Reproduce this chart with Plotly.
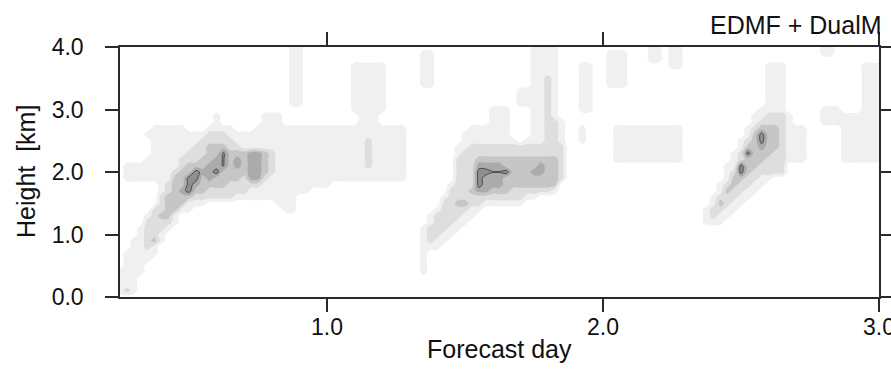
import plotly.graph_objects as go

# ---- grid of the field (forecast day x height) ----
DAY_START = 0.25
DAY_STEP = 0.025
N_DAYS = 111
HEIGHT_STEP = 0.1
N_HEIGHTS = 41

forecast_day = [round(DAY_START + DAY_STEP * i, 4) for i in range(N_DAYS)]
height_km = [round(HEIGHT_STEP * j, 2) for j in range(N_HEIGHTS)]

x_tick_vals = [1.0, 2.0, 3.0]
x_tick_text = ["1.0", "2.0", "3.0"]
y_tick_vals = [0.0, 1.0, 2.0, 3.0, 4.0]
y_tick_text = ["0.0", "1.0", "2.0", "3.0", "4.0"]

# ---- cloud-fraction class: {height row: [(first col, last col), ...]} ----
LEVEL_1 = {
    40: [(25, 26), (60, 63), (77, 78), (80, 81), (102, 103)],
    39: [(25, 26), (44, 45), (60, 63), (71, 73), (77, 78), (80, 81), (102, 103)],
    38: [(25, 26), (44, 45), (60, 63), (71, 73), (77, 78), (80, 81)],
    37: [(25, 26), (34, 38), (44, 45), (60, 63), (67, 68), (71, 73), (80, 81), (94, 96), (108, 110)],
    36: [(25, 26), (34, 38), (44, 45), (60, 63), (67, 68), (71, 73), (94, 96), (108, 110)],
    35: [(25, 26), (34, 38), (44, 45), (60, 63), (67, 68), (71, 73), (94, 96), (108, 110)],
    34: [(25, 26), (34, 38), (44, 45), (60, 63), (67, 68), (71, 73), (94, 96), (108, 110)],
    33: [(25, 26), (34, 38), (58, 59), (60, 63), (67, 68), (94, 96), (108, 110)],
    32: [(25, 26), (34, 38), (58, 59), (60, 63), (67, 68), (94, 96), (108, 110)],
    31: [(25, 26), (34, 38), (58, 59), (60, 63), (67, 68), (94, 96), (108, 110)],
    30: [(34, 38), (54, 56), (60, 63), (67, 68), (93, 96), (102, 104), (108, 110)],
    29: [(14, 14), (21, 23), (35, 37), (54, 56), (60, 63), (92, 97), (102, 104), (105, 110)],
    28: [(14, 14), (21, 23), (35, 37), (54, 56), (60, 64), (92, 97), (102, 104), (105, 110)],
    27: [(5, 9), (13, 16), (20, 41), (51, 56), (60, 64), (67, 67), (72, 81), (91, 97), (98, 99), (105, 110)],
    26: [(4, 41), (50, 56), (60, 64), (67, 67), (72, 81), (91, 97), (98, 99), (105, 110)],
    25: [(5, 41), (50, 57), (59, 64), (67, 67), (72, 81), (90, 97), (98, 99), (105, 110)],
    24: [(5, 41), (49, 64), (72, 81), (90, 97), (98, 99), (105, 110)],
    23: [(5, 41), (49, 64), (72, 81), (89, 97), (98, 99), (105, 110)],
    22: [(4, 41), (49, 64), (72, 81), (89, 97), (98, 99), (105, 110)],
    21: [(1, 41), (49, 64), (88, 96)],
    20: [(1, 41), (49, 64), (88, 96)],
    19: [(1, 41), (49, 64), (88, 94)],
    18: [(6, 30), (48, 63), (87, 93)],
    17: [(6, 27), (48, 63), (87, 92)],
    16: [(6, 25), (47, 60), (86, 91)],
    15: [(6, 12), (23, 25), (47, 58), (86, 90)],
    14: [(5, 10), (24, 25), (46, 52), (85, 89)],
    13: [(4, 8), (45, 51), (85, 88)],
    12: [(4, 8), (45, 50), (85, 87)],
    11: [(3, 7), (44, 49)],
    10: [(3, 6), (44, 48)],
    9: [(2, 6), (44, 47)],
    8: [(2, 5), (44, 46)],
    7: [(1, 5), (44, 44)],
    6: [(1, 4), (44, 44)],
    5: [(1, 3), (44, 44)],
    4: [(0, 3), (44, 44)],
    3: [(0, 2)],
    2: [(0, 2)],
    1: [(0, 2)],
}

LEVEL_2 = {
    35: [(62, 62)], 34: [(62, 62)], 33: [(62, 62)], 32: [(62, 62)],
    31: [(62, 62)], 30: [(62, 62)],
    29: [(62, 62), (94, 96)],
    28: [(62, 63), (93, 96)],
    27: [(62, 63), (92, 96)],
    26: [(13, 15), (62, 63), (92, 96)],
    25: [(12, 16), (36, 36), (62, 63), (91, 96)],
    24: [(11, 17), (36, 36), (51, 64), (91, 96)],
    23: [(10, 22), (36, 36), (50, 64), (90, 96)],
    22: [(9, 22), (36, 36), (49, 64), (90, 96)],
    21: [(9, 22), (36, 36), (49, 64), (90, 96)],
    20: [(8, 22), (49, 64), (89, 96)],
    19: [(8, 21), (49, 64), (89, 92)],
    18: [(7, 20), (49, 63), (88, 91)],
    17: [(7, 18), (48, 62), (88, 90)],
    16: [(6, 16), (48, 58), (87, 89)],
    15: [(6, 9), (47, 52), (87, 88)],
    14: [(5, 8), (47, 50), (86, 87)],
    13: [(5, 7), (46, 49), (86, 86)],
    12: [(4, 7), (46, 48)],
    11: [(4, 6), (45, 47)],
    10: [(4, 5), (45, 46)],
    9: [(4, 5), (45, 45)],
    8: [(4, 4)],
    1: [(1, 1)],
}

LEVEL_3 = {
    27: [(93, 95)],
    26: [(92, 95)],
    25: [(92, 95)],
    24: [(13, 15), (91, 95)],
    23: [(13, 21), (91, 94)],
    22: [(12, 21), (52, 63), (91, 93)],
    21: [(10, 21), (52, 63), (90, 92)],
    20: [(9, 21), (52, 63), (90, 91)],
    19: [(8, 17), (52, 63), (89, 90)],
    18: [(8, 15), (52, 63), (89, 89)],
    17: [(8, 12), (51, 56), (88, 88)],
    16: [(7, 10)],
    15: [(7, 9), (49, 50), (87, 87)],
    14: [(7, 8)],
    13: [(6, 7)],
    9: [(5, 5)],
}

LEVEL_4 = {
    26: [(93, 93)],
    25: [(93, 93)],
    24: [(93, 93)],
    23: [(19, 20)],
    22: [(14, 15), (17, 17), (19, 20)],
    21: [(13, 15), (17, 17), (19, 20), (52, 55), (61, 61)],
    20: [(11, 12), (13, 14), (19, 20), (52, 55), (60, 61)],
    19: [(10, 11), (13, 13), (19, 20), (52, 55)],
    18: [(10, 11), (52, 55)],
    17: [(9, 10), (52, 53)],
}

LEVEL_5 = {
    26: [(93, 93)],
    25: [(93, 93)],
    23: [(91, 91)],
    21: [(90, 90)],
    20: [(11, 11), (14, 14), (52, 53), (56, 56), (90, 90)],
    19: [(10, 11), (52, 52)],
    18: [(10, 10), (52, 52)],
    17: [(10, 10)],
}

# thin filaments just above the top class (row, col, value)
FILAMENTS = [(21, 15, 4.6), (22, 15, 4.6), (23, 15, 4.7), (20, 54, 4.55), (20, 55, 4.55)]

BAND_COLORS = ["#ffffff", "#f0f0f0", "#dedede", "#c6c6c6", "#ababab", "#8f8f8f"]

z = [[0.0] * N_DAYS for _ in range(N_HEIGHTS)]
for level, spans in [(1, LEVEL_1), (2, LEVEL_2), (3, LEVEL_3), (4, LEVEL_4), (5, LEVEL_5)]:
    for row, lst in spans.items():
        for c0, c1 in lst:
            for c in range(c0, c1 + 1):
                z[row][c] = max(z[row][c], float(level))
for row, col, val in FILAMENTS:
    z[row][col] = max(z[row][col], val)

nlev = len(BAND_COLORS) - 1
colorscale = []
for k, col in enumerate(BAND_COLORS):
    lo = max(0.0, (k - 0.5) / nlev)
    hi = min(1.0, (k + 0.5) / nlev)
    colorscale += [[lo, col], [hi, col]]

fig = go.Figure()
fig.add_trace(go.Contour(
    x=forecast_day, y=height_km, z=z,
    autocontour=False,
    contours=dict(start=0.5, end=4.5, size=1, coloring="fill", showlines=False),
    colorscale=colorscale, showscale=False,
    line=dict(width=0, smoothing=1),
    hoverinfo="skip",
))
fig.add_trace(go.Contour(
    x=forecast_day, y=height_km, z=z,
    autocontour=False,
    contours=dict(start=4.5, end=4.5, size=1, coloring="none"),
    line=dict(color="#4a4a4a", width=1, smoothing=1),
    showscale=False, hoverinfo="skip",
))

axis_color = "#2a2a2a"
FONT = "Liberation Sans, Arial, Helvetica, sans-serif"

fig.update_xaxes(
    range=[0.25, 3.0], tickvals=x_tick_vals, ticktext=x_tick_text,
    ticks="outside", ticklen=13, tickwidth=1.5, tickcolor=axis_color,
    showline=True, linecolor=axis_color, linewidth=1.5, mirror="ticks",
    showgrid=False, zeroline=False, automargin=False, ticklabelstandoff=-4,
    ticklabeloverflow="allow",
    tickfont=dict(size=23, color="#111", family=FONT),
)
fig.update_yaxes(
    range=[0.0, 4.0], tickvals=y_tick_vals, ticktext=y_tick_text,
    ticks="outside", ticklen=13, tickwidth=1.5, tickcolor=axis_color,
    showline=True, linecolor=axis_color, linewidth=1.5, mirror="ticks",
    showgrid=False, zeroline=False, automargin=False, ticklabelstandoff=17,
    ticklabeloverflow="allow",
    tickfont=dict(size=23, color="#111", family=FONT),
)

fig.update_layout(
    width=891, height=391,
    margin=dict(l=120, r=12, t=47, b=94, pad=0, autoexpand=False),
    paper_bgcolor="white", plot_bgcolor="white",
    font=dict(family=FONT, color="#111"),
    showlegend=False,
    shapes=[
        dict(type="line", xref="paper", yref="paper", x0=1, x1=1.03, y0=1, y1=1,
             line=dict(color=axis_color, width=1.5)),
        dict(type="line", xref="paper", yref="paper", x0=1, x1=1.03, y0=0, y1=0,
             line=dict(color=axis_color, width=1.5)),
    ],
    annotations=[
        dict(text="EDMF + DualM", xref="paper", yref="paper", x=1, y=1,
             xanchor="right", yanchor="bottom", yshift=6, xshift=5, showarrow=False,
             font=dict(size=25, color="#111", family=FONT)),
        dict(text="Forecast day", xref="paper", yref="paper", x=0.5, y=0,
             xanchor="center", yanchor="middle", yshift=-52, showarrow=False,
             font=dict(size=25, color="#111", family=FONT)),
        dict(text="Height\u00a0 [km]", xref="paper", yref="paper", x=0, y=0.5,
             xanchor="center", yanchor="middle", xshift=-94, textangle=-90,
             showarrow=False, font=dict(size=25, color="#111", family=FONT)),
    ],
)

fig.write_html("out.html")
